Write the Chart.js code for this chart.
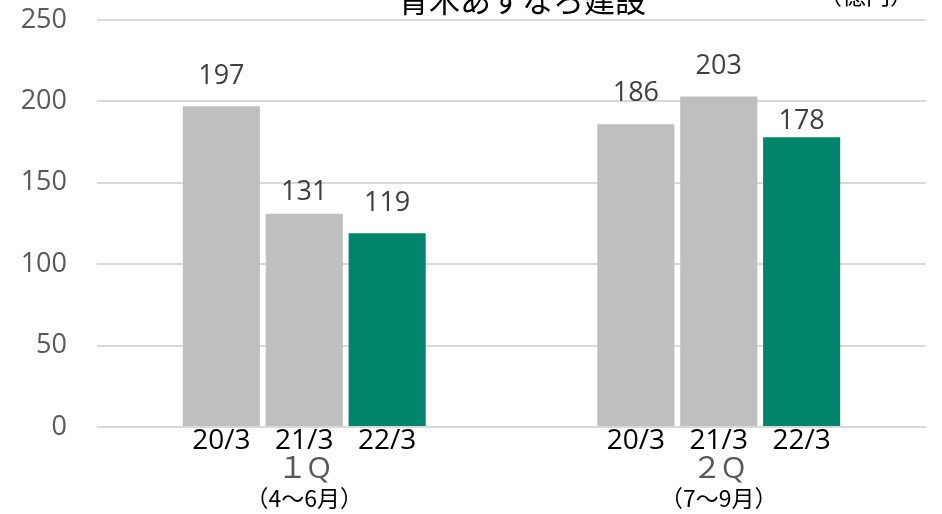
<!DOCTYPE html>
<html><head><meta charset="utf-8">
<script src="https://cdn.jsdelivr.net/npm/chart.js@4"></script>
<style>html,body{margin:0;padding:0;background:#fff;}#wrap{width:942px;height:514px;}</style>
</head><body><div id="wrap"><canvas id="c" width="942" height="514"></canvas></div>
<script>
const categories = ['１Q', '２Q'];
const categorySubs = ['（4～6月）', '（7～9月）'];
const seriesNames = ['20/3', '21/3', '22/3'];
const values20 = [197, 186];
const values21 = [131, 203];
const values22 = [119, 178];
const yTicks = [0, 50, 100, 150, 200, 250];
const titleText = '青木あすなろ建設';
const unitText = '（億円）';

// label gap above each bar (style only), per dataset / category
const labelGap = [[30, 31], [21, 30], [30, 16]];

const FONT = '"Open Sans", "Noto Sans CJK JP", sans-serif';
const JFONT = '"Noto Sans CJK JP", "Open Sans", sans-serif';
const GRAY = '#BFBFBF', GREEN = '#00846B';

const labelPlugin = {
  id: 'labels',
  afterDatasetsDraw(chart) {
    const ctx = chart.ctx;
    const xs = chart.scales.x;
    const area = chart.chartArea;
    ctx.save();
    ctx.textAlign = 'center';
    ctx.textBaseline = 'middle';
    chart.data.datasets.forEach((ds, di) => {
      const meta = chart.getDatasetMeta(di);
      meta.data.forEach((bar, i) => {
        ctx.font = '27px ' + FONT;
        ctx.fillStyle = '#404040';
        ctx.fillText(String(ds.data[i]), bar.x, bar.y - labelGap[di][i]);
        ctx.font = '28px ' + FONT;
        ctx.fillStyle = '#000000';
        ctx.fillText(seriesNames[di], bar.x, area.bottom + 14);
      });
    });
    categories.forEach((c, i) => {
      const x = xs.getPixelForValue(i);
      ctx.font = '30px ' + FONT;
      ctx.fillStyle = '#595959';
      ctx.fillText(c, x, area.bottom + 42);
      ctx.font = '23px ' + JFONT;
      ctx.fillStyle = '#000000';
      ctx.fillText(categorySubs[i], x, area.bottom + 71);
    });
    ctx.font = '31px ' + JFONT;
    ctx.fillStyle = '#000000';
    ctx.fillText(titleText, 522, 0);
    ctx.font = '24px ' + JFONT;
    ctx.textAlign = 'left';
    ctx.fillText(unitText, 818, -5);
    ctx.restore();
  }
};

new Chart(document.getElementById('c'), {
  type: 'bar',
  data: {
    labels: categories,
    datasets: [
      { label: seriesNames[0], data: values20, backgroundColor: GRAY },
      { label: seriesNames[1], data: values21, backgroundColor: GRAY },
      { label: seriesNames[2], data: values22, backgroundColor: GREEN }
    ]
  },
  options: {
    responsive: false,
    animation: false,
    devicePixelRatio: 1,
    layout: { padding: { top: 20, bottom: 87, right: 16, left: 0 } },
    datasets: { bar: { categoryPercentage: 0.6, barPercentage: 0.93 } },
    plugins: { legend: { display: false }, tooltip: { enabled: false }, title: { display: false } },
    scales: {
      x: {
        ticks: { display: false },
        grid: { display: false, drawTicks: false },
        border: { display: false },
        afterFit(scale) { scale.height = 0; scale.paddingLeft = 0; scale.paddingRight = 0; }
      },
      y: {
        min: 0, max: 250,
        afterBuildTicks(scale) { scale.ticks = yTicks.map(v => ({ value: v })); },
        afterFit(scale) { scale.width = 97; scale.paddingTop = 0; scale.paddingBottom = 0; },
        ticks: { color: '#595959', font: { size: 27, family: FONT }, padding: 30 },
        grid: { color: '#D9D9D9', lineWidth: 2, drawTicks: false },
        border: { display: false }
      }
    }
  },
  plugins: [labelPlugin]
});
</script></body></html>
